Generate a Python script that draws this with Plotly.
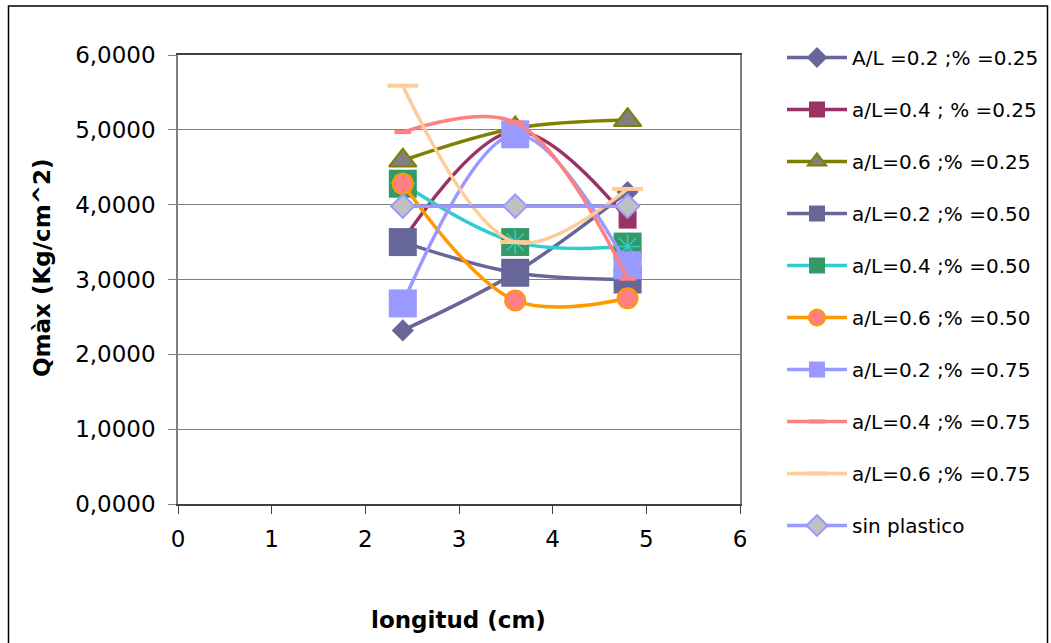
import plotly.graph_objects as go

longitud = [2.4, 3.6, 4.8]

names = [
    "A/L =0.2 ;% =0.25",
    "a/L=0.4 ; % =0.25",
    "a/L=0.6 ;% =0.25",
    "a/L=0.2 ;% =0.50",
    "a/L=0.4 ;% =0.50",
    "a/L=0.6 ;% =0.50",
    "a/L=0.2 ;% =0.75",
    "a/L=0.4 ;% =0.75",
    "a/L=0.6 ;% =0.75",
    "sin plastico",
]

s1 = [2.32, 3.09, 4.17]
s2 = [3.52, 4.98, 3.80]
s3 = [4.59, 5.02, 5.13]
s4 = [3.50, 3.09, 3.00]
s5 = [4.28, 3.50, 3.44]
s6 = [4.28, 2.72, 2.75]
s7 = [2.68, 4.94, 3.19]
s8 = [4.97, 5.10, 3.01]
s9 = [5.59, 3.50, 4.21]
s10 = [3.98, 3.98, 3.98]

series = [s1, s2, s3, s4, s5, s6, s7, s8, s9, s10]

styles = [
    dict(line="#666699", symbol="diamond", size=17, fill="#666699", border="#666699", bw=0),
    dict(line="#993366", symbol="square", size=18, fill="#993366", border="#993366", bw=0),
    dict(line="#808000", symbol="triangle-up", size=24, fill="#808080", border="#808000", bw=2),
    dict(line="#666699", symbol="square", size=28, fill="#666699", border="#666699", bw=0),
    dict(line="#33CCCC", symbol="square", size=28, fill="#339966", border="#339966", bw=0),
    dict(line="#FF9900", symbol="circle", size=20, fill="#FF8080", border="#FF9900", bw=2),
    dict(line="#9999FF", symbol="square", size=28, fill="#9999FF", border="#9999FF", bw=0),
    dict(line="#FF8080", symbol="line-ew", size=12, fill="#FF8080", border="#FF8080", bw=4),
    dict(line="#FFCC99", symbol="line-ew", size=22, fill="#FFCC99", border="#FFCC99", bw=4),
    dict(line="#9999FF", symbol="diamond", size=18, fill="#C0C0C0", border="#9999FF", bw=2),
]

fig = go.Figure()
for i, (name, ys, st) in enumerate(zip(names, series, styles)):
    leg = "legend" if i < 5 else "legend2"
    fig.add_trace(go.Scatter(
        x=longitud, y=ys, name=name, mode="lines+markers",
        line=dict(color=st["line"], width=3.5, shape="spline", smoothing=1.0),
        marker=dict(symbol=st["symbol"], size=st["size"], color=st["fill"],
                    line=dict(color=st["border"], width=st["bw"])),
        legendgroup="g%d" % i, legend=leg,
    ))
    if i == 4:
        fig.add_trace(go.Scatter(
            x=longitud, y=ys, mode="markers", showlegend=False,
            marker=dict(symbol="asterisk", size=20, color="#33CCCC",
                        line=dict(color="#33CCCC", width=1.5)),
            legendgroup="g%d" % i, legend=leg, hoverinfo="skip",
        ))

W, H = 1051, 643
L, R, T, B = 178, 311, 55, 139
pw, ph = W - L - R, H - T - B

def px2x(p):
    return (p - L) / pw

def px2y(p):
    return (H - B - p) / ph

fig.add_shape(type="rect", xref="paper", yref="paper",
              x0=px2x(8.5), x1=px2x(1047.5), y0=px2y(660), y1=px2y(6),
              line=dict(color="black", width=1.5), fillcolor="rgba(0,0,0,0)", layer="below")

legend_common = dict(xanchor="left", yanchor="top", xref="container", yref="container",
                     font=dict(family="DejaVu Sans", size=20, color="black"),
                     itemwidth=60, tracegroupgap=23, traceorder="grouped",
                     bgcolor="rgba(0,0,0,0)")

fig.update_layout(
    width=W, height=H,
    margin=dict(l=L, r=R, t=T, b=B, pad=0, autoexpand=False),
    paper_bgcolor="white", plot_bgcolor="white",
    separators=",.",
    font=dict(family="DejaVu Sans", size=21, color="black"),
    showlegend=True,
    legend=dict(x=782 / W, y=1 - 38 / H, **legend_common),
    legend2=dict(x=782 / W, y=1 - 298 / H, **legend_common),
    xaxis=dict(range=[0, 6], dtick=1, tick0=0, showgrid=False, zeroline=False,
               showline=True, linecolor="#404040", linewidth=1.5, mirror=True,
               ticks="outside", ticklen=8, tickcolor="#404040", tickwidth=1,
               ticklabelstandoff=6,
               tickfont=dict(family="DejaVu Sans", size=23)),
    yaxis=dict(range=[0, 6], dtick=1, tick0=0, showgrid=True, gridcolor="#808080", gridwidth=1,
               zeroline=False, tickformat=".4f",
               showline=True, linecolor="#808080", linewidth=1.5, mirror=True,
               ticks="outside", ticklen=8, tickcolor="#808080", tickwidth=1,
               ticklabelstandoff=8,
               tickfont=dict(family="DejaVu Sans", size=23)),
    annotations=[
        dict(text="<b>longitud (cm)</b>", xref="paper", yref="paper",
             x=px2x(458), y=px2y(620), xanchor="center", yanchor="middle",
             showarrow=False, font=dict(family="DejaVu Sans", size=23)),
        dict(text="<b>Qmàx (Kg/cm^2)</b>", xref="paper", yref="paper",
             x=px2x(42), y=px2y(268), xanchor="center", yanchor="middle",
             textangle=-90, showarrow=False, font=dict(family="DejaVu Sans", size=23)),
    ],
)

fig.write_html("out.html")
